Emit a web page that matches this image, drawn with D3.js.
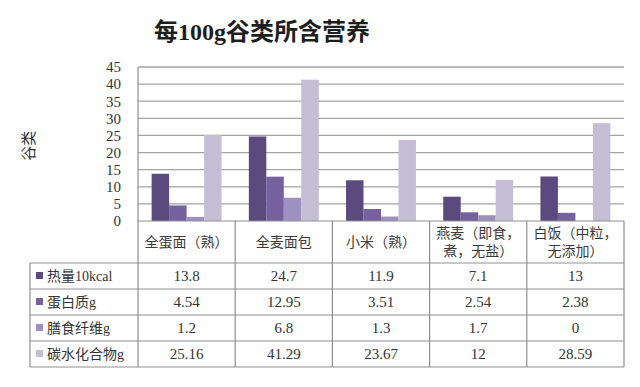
<!DOCTYPE html>
<html>
<head>
<meta charset="utf-8">
<script src="https://cdn.jsdelivr.net/npm/d3@7"></script>
<style>
  body { margin: 0; background: #fff; }
  svg { display: block; }
</style>
</head>
<body>
<svg id="chart"></svg>
<script>
// data
var categories = ["全蛋面（熟）", "全麦面包", "小米（熟）", "燕麦（即食，煮，无盐）", "白饭（中粒，无添加）"];
var categoryLines = [["全蛋面（熟）"], ["全麦面包"], ["小米（熟）"], ["燕麦（即食，", "煮，无盐）"], ["白饭（中粒，", "无添加）"]];
var seriesNames = ["热量10kcal", "蛋白质g", "膳食纤维g", "碳水化合物g"];
var energy = [13.8, 24.7, 11.9, 7.1, 13];
var protein = [4.54, 12.95, 3.51, 2.54, 2.38];
var fiber = [1.2, 6.8, 1.3, 1.7, 0];
var carbs = [25.16, 41.29, 23.67, 12, 28.59];
var yTicks = [0, 5, 10, 15, 20, 25, 30, 35, 40, 45];
var titleText = "每100g谷类所含营养";
var yTitle = "谷类";

var series = [energy, protein, fiber, carbs];
var colours = ["#5b4a7d", "#75619d", "#9d91bf", "#c4bed5"];

var local = {
    width: 640,
    height: 387,
    left: 138,
    right: 624,
    top: 67,
    zero: 221,
    headBottom: 263,
    tableBottom: 367,
    legendLeft: 30,
    serif: "'Liberation Serif', 'Noto Sans CJK SC', serif",
    line: "#8f8f8f",
    grid: "#a3a3a3"
};

var svg = d3.select("#chart")
    .attr("width", local.width)
    .attr("height", local.height);

// scales
var x = d3.scaleBand().domain(categories).range([local.left, local.right]);
var xs = d3.scaleBand().domain(seriesNames).range([0, x.bandwidth()]).paddingOuter(0.78);
var y = d3.scaleLinear().domain([0, 45]).range([local.zero, local.top]);
var rows = d3.scaleBand().domain(seriesNames).range([local.headBottom, local.tableBottom]);

// title
svg.append("text")
    .attr("x", 262)
    .attr("y", 40)
    .attr("text-anchor", "middle")
    .attr("font-family", local.serif)
    .attr("font-weight", "bold")
    .attr("font-size", 24)
    .attr("fill", "#1e1e1e")
    .text(titleText);

// y axis title
svg.append("text")
    .attr("transform", "translate(34," + y(22) + ") rotate(-90)")
    .attr("text-anchor", "middle")
    .attr("font-family", local.serif)
    .attr("font-size", 15)
    .attr("fill", "#333")
    .text(yTitle);

// gridlines
svg.append("g").selectAll("line")
    .data(yTicks.filter(function (d) { return d > 0; }))
    .enter().append("line")
    .attr("x1", local.left).attr("x2", local.right)
    .attr("y1", function (d) { return y(d); })
    .attr("y2", function (d) { return y(d); })
    .attr("stroke", local.grid)
    .attr("stroke-width", 1.3);

// y axis labels
var yAxis = d3.axisLeft(y).tickValues(yTicks).tickSize(0).tickPadding(17);
var ga = svg.append("g").attr("transform", "translate(" + local.left + ",0)").call(yAxis);
ga.select(".domain").remove();
ga.selectAll("text")
    .attr("font-family", local.serif)
    .attr("font-size", 15)
    .attr("fill", "#333");

// bars
var groups = svg.append("g").selectAll("g")
    .data(categories)
    .enter().append("g")
    .attr("transform", function (d) { return "translate(" + x(d) + ",0)"; });

groups.selectAll("rect")
    .data(function (d, i) {
        return seriesNames.map(function (s, j) { return { key: s, value: series[j][i], c: j }; });
    })
    .enter().append("rect")
    .attr("x", function (d) { return xs(d.key); })
    .attr("width", xs.bandwidth())
    .attr("y", function (d) { return y(d.value); })
    .attr("height", function (d) { return local.zero - y(d.value); })
    .attr("fill", function (d) { return colours[d.c]; });

// table lines
var tl = svg.append("g").attr("stroke", local.line).attr("stroke-width", 1.2).attr("fill", "none");
// left border of plot
tl.append("line").attr("x1", local.left).attr("x2", local.left).attr("y1", local.top).attr("y2", local.tableBottom);
// zero line / header top
tl.append("line").attr("x1", local.left).attr("x2", local.right).attr("y1", local.zero).attr("y2", local.zero);
// column separators
tl.selectAll(".col")
    .data(categories)
    .enter().append("line")
    .attr("x1", function (d) { return x(d) + x.bandwidth(); })
    .attr("x2", function (d) { return x(d) + x.bandwidth(); })
    .attr("y1", local.zero).attr("y2", local.tableBottom);
// row lines
tl.selectAll(".row")
    .data(seriesNames)
    .enter().append("line")
    .attr("x1", local.legendLeft).attr("x2", local.right)
    .attr("y1", function (d) { return rows(d); })
    .attr("y2", function (d) { return rows(d); });
tl.append("line").attr("x1", local.legendLeft).attr("x2", local.right).attr("y1", local.tableBottom).attr("y2", local.tableBottom);
tl.append("line").attr("x1", local.legendLeft).attr("x2", local.legendLeft).attr("y1", local.headBottom).attr("y2", local.tableBottom);

// category headers
var heads = svg.append("g").selectAll("text")
    .data(categories)
    .enter().append("text")
    .attr("text-anchor", "middle")
    .attr("font-family", local.serif)
    .attr("font-size", 14)
    .attr("fill", "#3a3a3a");
heads.each(function (d, i) {
    var lines = categoryLines[i];
    var cy = (local.zero + local.headBottom) / 2;
    var t = d3.select(this);
    lines.forEach(function (ln, k) {
        t.append("tspan")
            .attr("x", x(d) + x.bandwidth() / 2)
            .attr("y", cy + 5 + (k - (lines.length - 1) / 2) * 18)
            .text(ln);
    });
});

// legend cells
var leg = svg.append("g").selectAll("g")
    .data(seriesNames)
    .enter().append("g")
    .attr("transform", function (d) { return "translate(" + local.legendLeft + "," + (rows(d) + rows.bandwidth() / 2) + ")"; });
leg.append("rect")
    .attr("x", 6).attr("y", -4).attr("width", 7).attr("height", 7)
    .attr("fill", function (d, i) { return colours[i]; });
leg.append("text")
    .attr("x", 17).attr("y", 5)
    .attr("font-family", local.serif)
    .attr("font-size", 14)
    .attr("fill", "#333")
    .text(function (d) { return d; });

// values in table
series.forEach(function (vals, j) {
    svg.append("g").selectAll("text")
        .data(vals)
        .enter().append("text")
        .attr("x", function (d, i) { return x(categories[i]) + x.bandwidth() / 2; })
        .attr("y", rows(seriesNames[j]) + rows.bandwidth() / 2 + 5)
        .attr("text-anchor", "middle")
        .attr("font-family", local.serif)
        .attr("font-size", 15)
        .attr("fill", "#333")
        .text(function (d) { return String(d); });
});
</script>
</body>
</html>
